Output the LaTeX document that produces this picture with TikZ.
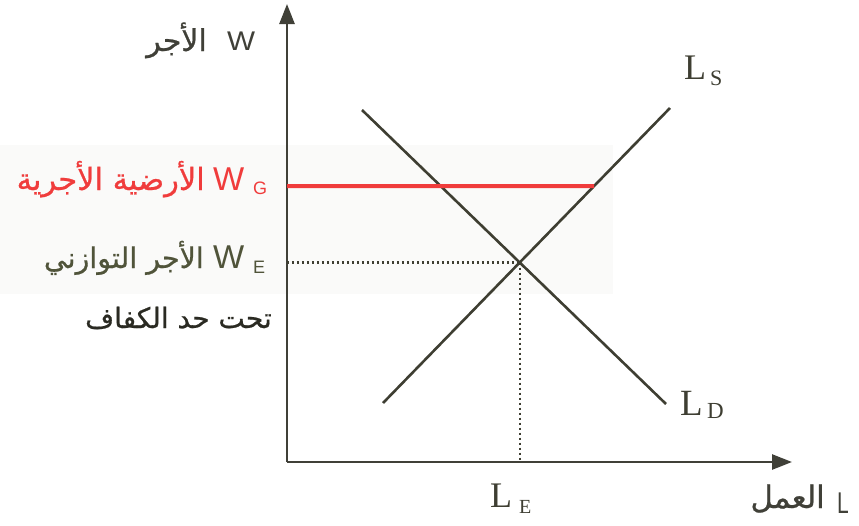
\documentclass[tikz,border=0pt]{standalone}
\usepackage{fontspec}
\setmainfont{Liberation Serif}
\newfontfamily\sansf{Liberation Sans}
\newfontfamily\arabicfont[Script=Arabic,FakeBold=0.7]{DejaVu Sans}
\TeXXeTstate=1
\usetikzlibrary{arrows.meta}
\definecolor{lineol}{HTML}{3E3E32}
\definecolor{axisc}{HTML}{404038}
\definecolor{redw}{HTML}{F03C3C}
\definecolor{olivetxt}{HTML}{50543A}
\definecolor{darktxt}{HTML}{2A2A22}
\definecolor{bgfaint}{HTML}{FAFAF9}
\begin{document}
\begin{tikzpicture}[x=1pt,y=-1pt,
  axisline/.style={draw=axisc,line width=2.6pt,-{Triangle[length=20pt,width=15pt]}},
  curve/.style={draw=lineol,line width=2.6pt},
  redline/.style={draw=redw,line width=4pt},
  dotline/.style={draw=lineol,line width=2.2pt,dash pattern=on 2pt off 3pt},
  lab/.style={inner sep=0pt,anchor=base west},
  arlab/.style={inner sep=0pt,anchor=base east},
  serifbig/.style={lab,font=\fontsize{36}{36}\selectfont,text=lineol},
  serifsub/.style={lab,font=\fontsize{22}{22}\selectfont,text=lineol},
]
\useasboundingbox (0,0) rectangle (859,525);
\fill[bgfaint] (0,145) rectangle (613,294);
% axes
\coordinate (O) at (287,462);
\coordinate (Ytip) at (287,4);
\coordinate (Xtip) at (792,462);
\draw[axisline] (O) -- (Ytip);
\draw[axisline] (O) -- (Xtip);
% supply and demand
\coordinate (S1) at (383,403);
\coordinate (S2) at (670,108);
\coordinate (D1) at (362,110);
\coordinate (D2) at (666,404);
\draw[curve] (S1) -- (S2);
\draw[curve] (D1) -- (D2);
\coordinate (E) at (intersection of S1--S2 and D1--D2);
\coordinate (G0) at (287,186);
\coordinate (G1) at (intersection of S1--S2 and G0--{(700,186)});
\draw[redline] (G0) -- (G1);
\draw[dotline] (O |- E) -- (E);
\draw[dotline] (E) -- (E |- O);
% axis labels
\node[lab,font=\sansf\fontsize{27}{27}\selectfont,text=axisc] (Wtop) at (227,50) {\scalebox{1.1}[1]{W}};
\node[arlab,font=\arabicfont\fontsize{30}{30}\selectfont,text=axisc] (Wtopar) at (207,51) {\beginR الأجر\endR};
\node[lab,font=\sansf\fontsize{30}{30}\selectfont,text=axisc] (Lax) at (837,513) {\scalebox{0.7}[1]{L}};
\node[arlab,font=\arabicfont\fontsize{31}{31}\selectfont,text=axisc] (Laxar) at (825,508) {\beginR العمل\endR};
% W_G
\node[lab,font=\sansf\fontsize{33}{33}\selectfont,text=redw] (WG) at (213,190) {W};
\node[lab,font=\sansf\fontsize{18}{18}\selectfont,text=redw] (WGs) at (253,194) {G};
\node[arlab,font=\arabicfont\fontsize{30.5}{30.5}\selectfont,text=redw] (WGar) at (205,190) {\beginR الأرضية الأجرية\endR};
% W_E
\node[lab,font=\sansf\fontsize{33}{33}\selectfont,text=olivetxt] (WE) at (213,268) {W};
\node[lab,font=\sansf\fontsize{18}{18}\selectfont,text=olivetxt] (WEs) at (253,273) {E};
\node[arlab,font=\arabicfont\fontsize{28.5}{28.5}\selectfont,text=olivetxt] (WEar) at (204,268) {\beginR الأجر التوازني\endR};
% subsistence
\node[arlab,font=\arabicfont\fontsize{28}{28}\selectfont,text=darktxt] (sub) at (272,328) {\beginR تحت حد الكفاف\endR};
% curve labels
\node[serifbig] (LS) at (684,79) {L};
\node[serifsub] (LSs) at (710,85) {S};
\node[serifbig,font=\fontsize{37}{37}\selectfont] (LD) at (680,415) {L};
\node[serifsub,font=\fontsize{23}{23}\selectfont] (LDs) at (707,418) {D};
\node[serifbig] (LE) at (490,507) {L};
\node[serifsub,font=\fontsize{20}{20}\selectfont] (LEs) at (519,513) {E};
\end{tikzpicture}
\end{document}
